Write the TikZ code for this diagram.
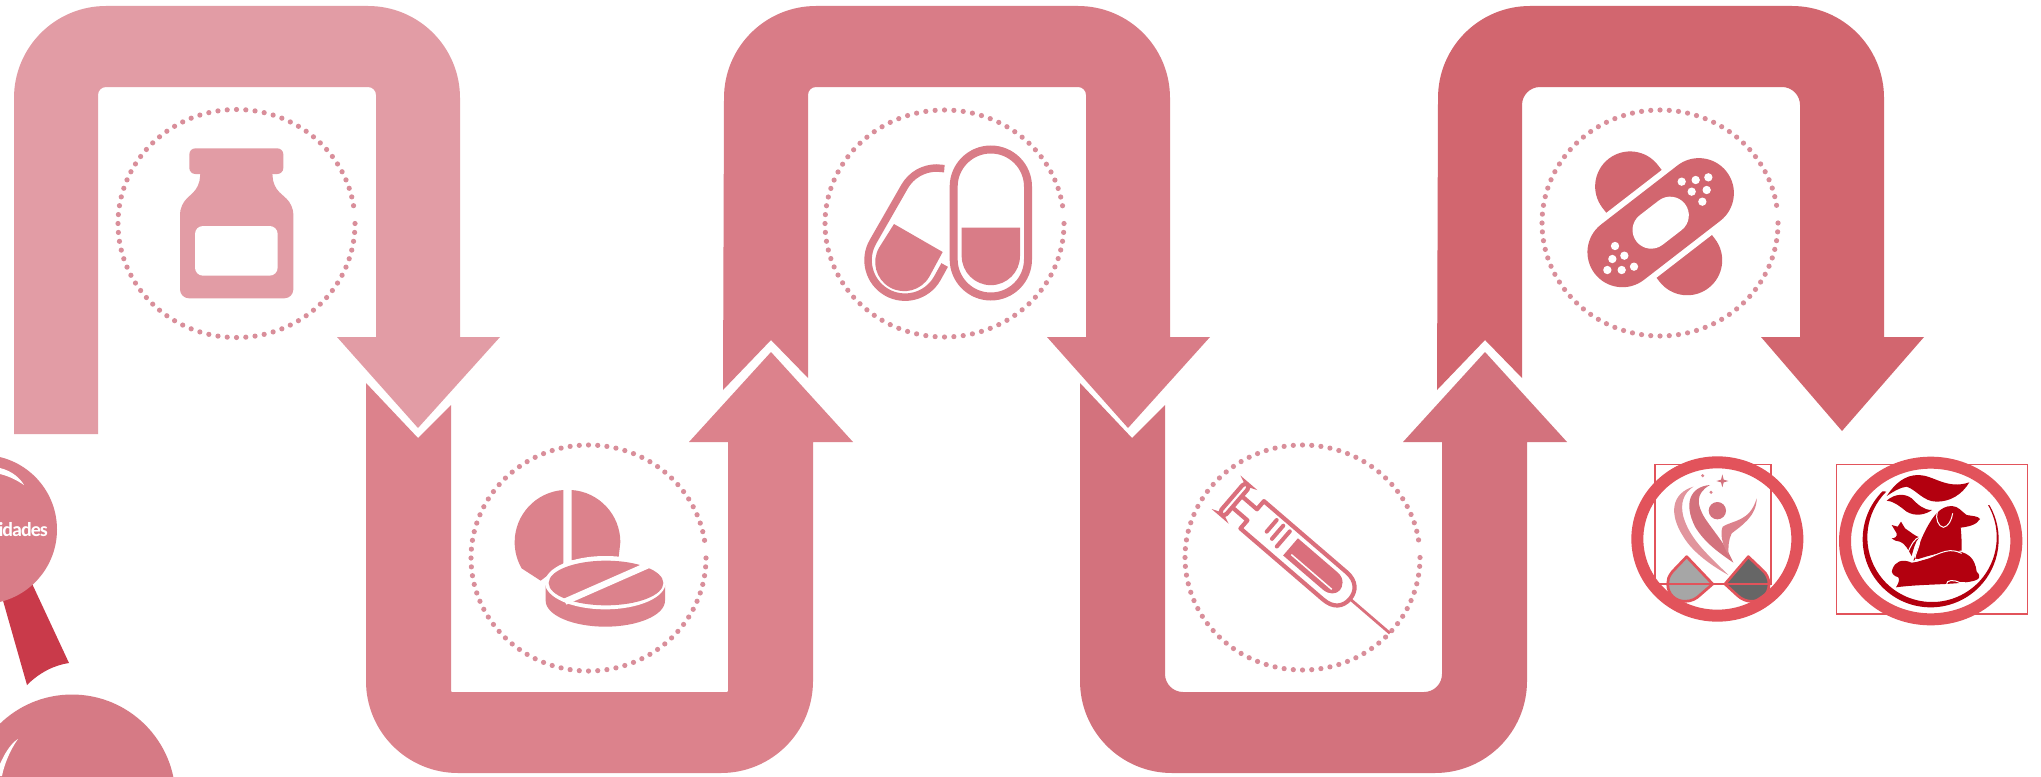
\documentclass[tikz,border=0pt]{standalone}
\usepackage{fontspec}
\setmainfont{Carlito}
\definecolor{segA}{HTML}{E29CA5}
\definecolor{segB}{HTML}{DC828C}
\definecolor{segC}{HTML}{D97C87}
\definecolor{segD}{HTML}{D3727D}
\definecolor{segE}{HTML}{D2666F}
\definecolor{dotc}{HTML}{D98E9A}
\definecolor{sealA}{HTML}{D97D88}
\definecolor{sealB}{HTML}{D67A85}
\definecolor{ribbonc}{HTML}{C93A4A}
\definecolor{ringc}{HTML}{E2535B}
\definecolor{petc}{HTML}{B3000F}
\definecolor{syrc}{HTML}{DA6F7C}
\tikzset{
  zoomed/.style={shift={(#1)},scale=1/3},
  logoline/.style={draw=ringc,line width=1.5pt},
  logoring/.style={draw=ringc,line width=12pt},
}
% down-going segment: x offset, colour, inner radius, tip y, bottom of left column
\newcommand{\downseg}[5]{%
  \begin{scope}[shift={(#1,0)}]
    \fill[#2] #5 -- (14,98) arc[start angle=180,end angle=270,radius=92]
      -- (368,6) arc[start angle=270,end angle=360,radius=92]
      -- (460,337) -- (500,337) -- (418,#4) -- (337,337) -- (376,337)
      -- ({376},{87+#3}) arc[start angle=0,end angle=-90,radius=#3]
      -- ({98+#3},87) arc[start angle=-90,end angle=-180,radius=#3]
      -- cycle;
  \end{scope}}
% up-going U segment
\newcommand{\upseg}[3]{%
  \begin{scope}[shift={(#1,0)}]
    \fill[#2] (366,383) -- (366,681) arc[start angle=180,end angle=90,radius=92]
      -- (721,773) arc[start angle=90,end angle=0,radius=92]
      -- (813,442) -- (853,442) -- (771,352) -- (689,442) -- (728,442)
      -- ({728},{692-#3}) arc[start angle=0,end angle=90,radius=#3]
      -- ({451+#3},692) arc[start angle=90,end angle=180,radius=#3]
      -- (451,405) -- (418,438) -- cycle;
  \end{scope}}
\newcommand{\dotring}[4]{%
  \begin{scope}[shift={(#1,#2)}]
    \foreach \a in {0,4.5,...,355}{\fill[dotc] ({#3*cos(\a)},{#4*sin(\a)}) circle[radius=2.6];}
  \end{scope}}
% pill: half straight length, half width
\newcommand{\pillpath}[2]{(-#1,-#2) -- (#1,-#2) arc[start angle=-90,end angle=90,radius=#2] -- (-#1,#2) arc[start angle=90,end angle=270,radius=#2] -- cycle}
\begin{document}
\begin{tikzpicture}[x=1pt,y=1pt,yscale=-1]
\useasboundingbox (0,0) rectangle (2041,776);
\fill[white] (0,0) rectangle (2041,776);

% ribbon
\downseg{0}{segA}{8}{428}{(98,434) -- (14,434)}
\upseg{0}{segB}{1}
\downseg{710}{segC}{8}{428}{(98,378) -- (61,340) -- (13,390)}
\upseg{714}{segD}{18}
\downseg{1424}{segE}{18}{431}{(98,378) -- (61,340) -- (13,390)}

% dotted rings
\dotring{236.5}{223.5}{118.5}{114}
\dotring{588.5}{558}{117.5}{113}
\dotring{944.5}{223.5}{119.5}{113.5}
\dotring{1302.5}{557.5}{117.5}{112.5}
\dotring{1660}{223}{118}{113}

% bottle
\begin{scope}[zoomed={100,90}]
  \fill[segA,rounded corners=6pt] (268,175) rectangle (550,252);
  \fill[segA,rounded corners=9pt] (300,230) -- (300,288) -- (240,345) -- (240,625) -- (580,625) -- (580,345) -- (518,288) -- (518,230) -- cycle;
  \fill[white,rounded corners=8pt] (285,408) rectangle (533,557);
\end{scope}

% tablets
\begin{scope}[zoomed={450,430}]
  \fill[segB] (340,180) arc[start angle=-94,end angle=-180,radius=157] arc[start angle=180,end angle=150,radius=157] -- (272,452) -- (340,400) -- cycle;
  \fill[segB] (365,180) arc[start angle=-86,end angle=0,radius=157] -- (505,390) -- (365,390) -- cycle;
  \fill[segB] (287,465) -- (287,512) arc[start angle=180,end angle=0,x radius=179,y radius=78] -- (645,465) -- cycle;
  \fill[white] (466,458) ellipse[x radius=181,y radius=80];
  \fill[segB] (468,459) ellipse[x radius=172,y radius=67];
  \draw[white,line width=6.5pt] (345,515) -- (595,405);
\end{scope}

% capsules
\begin{scope}[zoomed={810,100}]
  \draw[segC,line width=8pt] (431,260) arc[start angle=180,end angle=360,radius=111.5]
     -- (654,478) arc[start angle=0,end angle=180,radius=111.5] -- cycle;
  \fill[segC] (455,383) -- (630,383) -- (630,468) arc[start angle=0,end angle=180,radius=87.5] -- cycle;
  \draw[segC,line width=7.5pt] (403,206) -- (380,204) arc[start angle=270,end angle=210,radius=111]
     -- (189,425) arc[start angle=210,end angle=30,radius=111] -- (404,495);
  \fill[segC] (252,372) -- (398,456) -- (358,530) arc[start angle=30,end angle=210,radius=87] -- cycle;
\end{scope}

% syringe
\begin{scope}[zoomed={1170,430}]
  \begin{scope}[shift={(195,210)},rotate=40.7]
    \draw[syrc,line width=4.2pt,rounded corners=4pt] (-12,-60) rectangle (8,60);
    \draw[syrc,line width=4.2pt,line join=round] (8,-22) -- (68,-22) -- (68,-54) -- (395,-54)
        .. controls (435,-54) and (455,-30) .. (455,0) .. controls (455,32) and (435,54) .. (395,54)
        -- (68,54) -- (68,22) -- (8,22);
    \fill[syrc] (218,-36) -- (375,-36) .. controls (405,-36) and (415,-12) .. (415,0)
        .. controls (415,16) and (400,32) .. (375,32) -- (218,32) -- cycle;
    \draw[white,line width=1.5pt] (235,14) -- (395,14);
    \draw[syrc,line width=4pt,line cap=round] (134,10) -- (134,-36) (160,16) -- (160,-36) (186,24) -- (186,-36);
    \draw[syrc,line width=2.8pt] (455,0) -- (613,0);
  \end{scope}
\end{scope}

% bandage
\begin{scope}[zoomed={1530,100}]
  \begin{scope}[shift={(386,370)},rotate=52.3]
    \fill[segE] \pillpath{140}{105};
  \end{scope}
  \begin{scope}[shift={(392,368)},rotate=-37.7]
    \fill[white] \pillpath{145}{123};
    \fill[segE] \pillpath{145}{105};
    \fill[white] \pillpath{36}{56};
  \end{scope}
  \foreach \p in {(455,245),(497,240),(535,232),(485,275),(530,270),(517,305),
                  (255,438),(283,467),(247,477),(312,500),(275,510),(232,510)}
    {\fill[white] \p circle[radius=12.5];}
\end{scope}

% seals
\fill[ribbonc] (28,575) -- (69,663) .. controls (55,665) and (40,672) .. (27,685) -- (0,590) -- cycle;
\fill[sealA] (-17.5,529.5) circle[radius=74.5];
\fill[white] (0,468) .. controls (12,471) and (20,478) .. (24,485) .. controls (15,479) and (8,476) .. (0,474) -- cycle;
\node[anchor=east,text=white,font=\bfseries\fontsize{20}{20}\selectfont\addfontfeatures{LetterSpace=-5},inner sep=0pt] (sealtext) at (48,530) {idades};
\fill[sealB] (72,798) circle[radius=103.5];
\fill[white] (0,764) .. controls (4,755) and (10,744) .. (18,739) .. controls (10,750) and (4,765) .. (2,776) -- (0,776) -- cycle;

% left logo
\begin{scope}[zoomed={1600,430}]
  \draw[logoline] (165,103) rectangle (513,462);
  \fill[segB!85!white] (280,170) .. controls (215,190) and (205,250) .. (250,320)
     .. controls (280,370) and (340,410) .. (385,435)
     .. controls (330,380) and (270,330) .. (250,260)
     .. controls (240,220) and (250,190) .. (280,170) -- cycle;
  \fill[segD] (330,165) .. controls (270,170) and (250,220) .. (285,290)
     .. controls (315,340) and (360,370) .. (400,398)
     .. controls (375,340) and (345,310) .. (315,265)
     .. controls (290,225) and (285,190) .. (330,165) -- cycle;
  \fill[segB] (470,205) .. controls (470,260) and (420,290) .. (395,310)
     .. controls (385,330) and (385,350) .. (385,375)
     .. controls (365,340) and (360,310) .. (368,290)
     .. controls (400,270) and (450,275) .. (470,205) -- cycle;
  \fill[segD] (352,242) circle[radius=26];
  \fill[segD] (367,133) -- (371,149) -- (385,153) -- (371,157) -- (367,172) -- (363,157) -- (349,153) -- (363,149) -- cycle;
  \fill[segB] (308,137) circle[radius=5];
  \fill[segB] (333,187) circle[radius=5];
  \filldraw[fill=black!35,draw=ringc,line width=2.7pt,line join=round]
     (260,380) -- (217,425) .. controls (205,440) and (203,450) .. (203,462)
     .. controls (203,495) and (228,514) .. (255,514)
     .. controls (275,514) and (290,505) .. (300,495) -- (338,462) -- cycle;
  \filldraw[fill=black!60,draw=ringc,line width=2.7pt,line join=round]
     (445,380) -- (375,462) -- (413,497) .. controls (425,508) and (440,514) .. (455,514)
     .. controls (485,514) and (507,492) .. (507,462)
     .. controls (507,445) and (498,430) .. (490,423) -- cycle;
  \draw[logoline] (165,462) -- (513,462);
  \draw[logoring] (352,327) ellipse[x radius=240,y radius=230];
\end{scope}

% right logo
\begin{scope}[zoomed={1600,430}]
  \draw[logoline] (710,103) rectangle (1283,552);
  \fill[white] (992,333) ellipse[x radius=257,y radius=235];
  \fill[petc] ({992+204*cos(225)},{328+204*sin(225)}) arc[start angle=225,end angle=-30,radius=204]
     -- ({996+194*cos(-30)},{322+194*sin(-30)}) arc[start angle=-30,end angle=225,radius=194] -- cycle;
  % leaves
  \fill[petc] (860,198) .. controls (885,160) and (915,135) .. (955,135)
     .. controls (1000,135) and (1040,180) .. (1108,157)
     .. controls (1085,195) and (1050,215) .. (1010,215)
     .. controls (970,215) and (950,180) .. (920,170)
     .. controls (900,172) and (880,185) .. (860,198) -- cycle;
  \fill[petc] (860,212) .. controls (885,190) and (915,190) .. (935,205)
     .. controls (955,225) and (970,240) .. (996,240)
     .. controls (975,255) and (945,260) .. (920,245)
     .. controls (900,230) and (885,215) .. (860,212) -- cycle;
  % dog
  \fill[petc] (940,392) .. controls (955,350) and (965,320) .. (985,285)
     .. controls (1000,260) and (1020,228) .. (1055,228)
     .. controls (1075,228) and (1085,245) .. (1100,255)
     .. controls (1115,258) and (1135,258) .. (1140,267)
     .. controls (1130,285) and (1105,290) .. (1082,293)
     .. controls (1085,320) and (1085,345) .. (1085,362)
     .. controls (1040,362) and (990,375) .. (940,392) -- cycle;
  \draw[white,line width=1pt] (1012,245) .. controls (1005,265) and (1015,290) .. (1030,292)
     .. controls (1045,290) and (1055,270) .. (1058,250);
  % cat
  \fill[petc] (875,285) -- (893,290) -- (903,275) -- (915,295)
     .. controls (930,305) and (945,318) .. (958,322)
     .. controls (945,335) and (940,360) .. (935,378)
     .. controls (925,360) and (915,340) .. (900,335)
     .. controls (890,335) and (880,330) .. (875,325)
     .. controls (885,325) and (892,320) .. (890,310) -- cycle;
  \draw[white,line width=1pt] (920,375) .. controls (935,340) and (945,325) .. (958,322)
     .. controls (965,340) and (945,370) .. (945,385);
  % rabbit
  \fill[petc] (888,472) .. controls (895,460) and (900,450) .. (895,442)
     .. controls (880,438) and (872,428) .. (877,418)
     .. controls (885,395) and (905,385) .. (935,398)
     .. controls (975,395) and (1000,370) .. (1050,362)
     .. controls (1105,362) and (1125,385) .. (1130,425)
     .. controls (1145,440) and (1140,450) .. (1110,455)
     .. controls (1050,465) and (960,462) .. (888,472) -- cycle;
  \draw[white,line width=1pt] (1040,462) .. controls (1040,450) and (1060,448) .. (1080,458) -- (1095,458);
  \draw[white,line width=1pt] (945,388) .. controls (985,395) and (1010,365) .. (1050,362) .. controls (1065,362) and (1075,365) .. (1085,370);
  \draw[logoring] (992,333) ellipse[x radius=257,y radius=235];
\end{scope}
\end{tikzpicture}
\end{document}
